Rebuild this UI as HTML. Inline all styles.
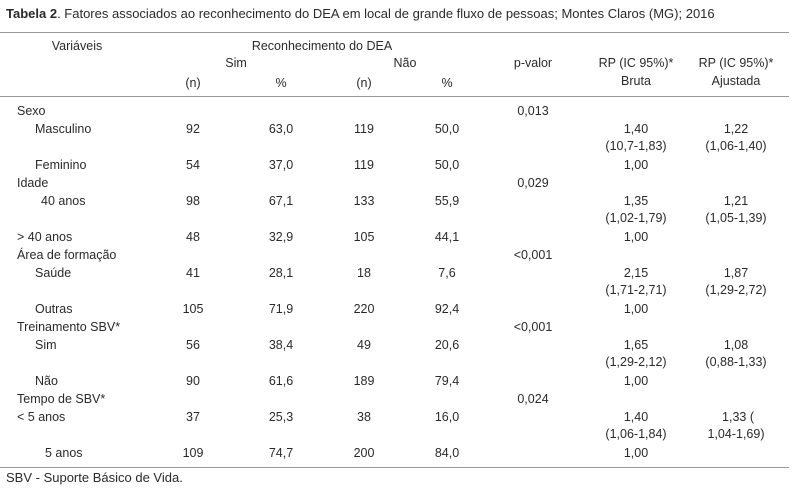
<!DOCTYPE html><html><head><meta charset="utf-8"><style>
body{margin:0;background:#fff;width:794px;height:491px;position:relative;overflow:hidden;font-family:"Liberation Sans",sans-serif;font-size:12.5px;color:#2a2a2a}
.t{position:absolute;white-space:nowrap;line-height:14px;transform:translateY(-7px)}
.c{transform:translate(-50%,-7px)}
.l{position:absolute;left:0;width:789px;height:1px;background:#999}
</style></head><body>
<div class="t" style="left:6px;top:14px;font-size:13px"><b>Tabela 2</b>. Fatores associados ao reconhecimento do DEA em local de grande fluxo de pessoas; Montes Claros (MG); 2016</div>
<div class="l" style="top:32px"></div>
<div class="l" style="top:96px"></div>
<div class="l" style="top:467px"></div>
<div class="t c" style="left:77px;top:46px">Variáveis</div>
<div class="t c" style="left:322px;top:46px">Reconhecimento do DEA</div>
<div class="t c" style="left:236px;top:63px">Sim</div>
<div class="t c" style="left:405px;top:63px">Não</div>
<div class="t c" style="left:193px;top:83px">(n)</div>
<div class="t c" style="left:281px;top:83px">%</div>
<div class="t c" style="left:364px;top:83px">(n)</div>
<div class="t c" style="left:447px;top:83px">%</div>
<div class="t c" style="left:533px;top:63px">p-valor</div>
<div class="t c" style="left:636px;top:63px">RP (IC 95%)*</div>
<div class="t c" style="left:636px;top:81px">Bruta</div>
<div class="t c" style="left:736px;top:63px">RP (IC 95%)*</div>
<div class="t c" style="left:736px;top:81px">Ajustada</div>

<div class="t" style="left:17px;top:111px">Sexo</div><div class="t c" style="left:533px;top:111px">0,013</div>
<div class="t" style="left:35px;top:129px">Masculino</div><div class="t c" style="left:193px;top:129px">92</div><div class="t c" style="left:281px;top:129px">63,0</div><div class="t c" style="left:364px;top:129px">119</div><div class="t c" style="left:447px;top:129px">50,0</div><div class="t c" style="left:636px;top:129px">1,40</div><div class="t c" style="left:736px;top:129px">1,22</div>
<div class="t c" style="left:636px;top:146px">(10,7-1,83)</div><div class="t c" style="left:736px;top:146px">(1,06-1,40)</div>
<div class="t" style="left:35px;top:165px">Feminino</div><div class="t c" style="left:193px;top:165px">54</div><div class="t c" style="left:281px;top:165px">37,0</div><div class="t c" style="left:364px;top:165px">119</div><div class="t c" style="left:447px;top:165px">50,0</div><div class="t c" style="left:636px;top:165px">1,00</div>

<div class="t" style="left:17px;top:183px">Idade</div><div class="t c" style="left:533px;top:183px">0,029</div>
<div class="t" style="left:41px;top:201px">40 anos</div><div class="t c" style="left:193px;top:201px">98</div><div class="t c" style="left:281px;top:201px">67,1</div><div class="t c" style="left:364px;top:201px">133</div><div class="t c" style="left:447px;top:201px">55,9</div><div class="t c" style="left:636px;top:201px">1,35</div><div class="t c" style="left:736px;top:201px">1,21</div>
<div class="t c" style="left:636px;top:218px">(1,02-1,79)</div><div class="t c" style="left:736px;top:218px">(1,05-1,39)</div>
<div class="t" style="left:17px;top:237px">&gt; 40 anos</div><div class="t c" style="left:193px;top:237px">48</div><div class="t c" style="left:281px;top:237px">32,9</div><div class="t c" style="left:364px;top:237px">105</div><div class="t c" style="left:447px;top:237px">44,1</div><div class="t c" style="left:636px;top:237px">1,00</div>

<div class="t" style="left:17px;top:255px">Área de formação</div><div class="t c" style="left:533px;top:255px">&lt;0,001</div>
<div class="t" style="left:35px;top:273px">Saúde</div><div class="t c" style="left:193px;top:273px">41</div><div class="t c" style="left:281px;top:273px">28,1</div><div class="t c" style="left:364px;top:273px">18</div><div class="t c" style="left:447px;top:273px">7,6</div><div class="t c" style="left:636px;top:273px">2,15</div><div class="t c" style="left:736px;top:273px">1,87</div>
<div class="t c" style="left:636px;top:290px">(1,71-2,71)</div><div class="t c" style="left:736px;top:290px">(1,29-2,72)</div>
<div class="t" style="left:35px;top:309px">Outras</div><div class="t c" style="left:193px;top:309px">105</div><div class="t c" style="left:281px;top:309px">71,9</div><div class="t c" style="left:364px;top:309px">220</div><div class="t c" style="left:447px;top:309px">92,4</div><div class="t c" style="left:636px;top:309px">1,00</div>

<div class="t" style="left:17px;top:327px">Treinamento SBV*</div><div class="t c" style="left:533px;top:327px">&lt;0,001</div>
<div class="t" style="left:35px;top:345px">Sim</div><div class="t c" style="left:193px;top:345px">56</div><div class="t c" style="left:281px;top:345px">38,4</div><div class="t c" style="left:364px;top:345px">49</div><div class="t c" style="left:447px;top:345px">20,6</div><div class="t c" style="left:636px;top:345px">1,65</div><div class="t c" style="left:736px;top:345px">1,08</div>
<div class="t c" style="left:636px;top:362px">(1,29-2,12)</div><div class="t c" style="left:736px;top:362px">(0,88-1,33)</div>
<div class="t" style="left:35px;top:381px">Não</div><div class="t c" style="left:193px;top:381px">90</div><div class="t c" style="left:281px;top:381px">61,6</div><div class="t c" style="left:364px;top:381px">189</div><div class="t c" style="left:447px;top:381px">79,4</div><div class="t c" style="left:636px;top:381px">1,00</div>

<div class="t" style="left:17px;top:399px">Tempo de SBV*</div><div class="t c" style="left:533px;top:399px">0,024</div>
<div class="t" style="left:17px;top:417px">&lt; 5 anos</div><div class="t c" style="left:193px;top:417px">37</div><div class="t c" style="left:281px;top:417px">25,3</div><div class="t c" style="left:364px;top:417px">38</div><div class="t c" style="left:447px;top:417px">16,0</div><div class="t c" style="left:636px;top:417px">1,40</div><div class="t c" style="left:738px;top:417px">1,33 (</div>
<div class="t c" style="left:636px;top:434px">(1,06-1,84)</div><div class="t c" style="left:736px;top:434px">1,04-1,69)</div>
<div class="t" style="left:45px;top:453px">5 anos</div><div class="t c" style="left:193px;top:453px">109</div><div class="t c" style="left:281px;top:453px">74,7</div><div class="t c" style="left:364px;top:453px">200</div><div class="t c" style="left:447px;top:453px">84,0</div><div class="t c" style="left:636px;top:453px">1,00</div>
<div class="t" style="left:6px;top:478px;font-size:13px">SBV - Suporte Básico de Vida.</div>
</body></html>
